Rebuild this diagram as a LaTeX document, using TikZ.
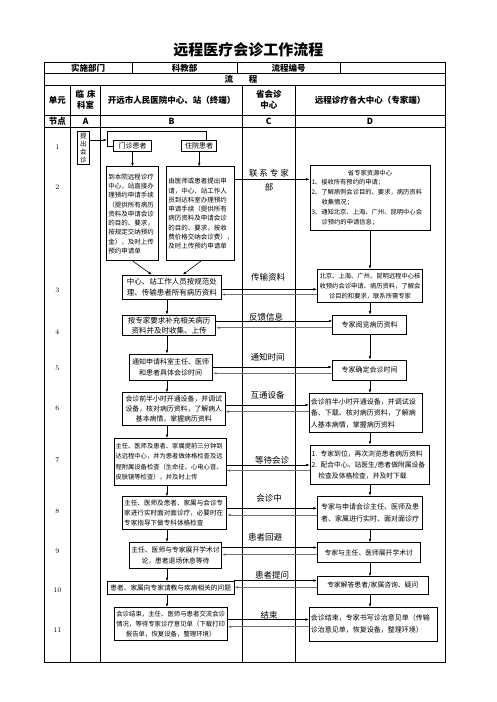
\documentclass[tikz,border=0pt]{standalone}
\usepackage{fontspec}
\newfontfamily\cjk{Noto Sans CJK SC}
\usetikzlibrary{arrows.meta}
\newcommand\fz[2]{\fontsize{#1}{#2}\selectfont}
\begin{document}
\begin{tikzpicture}[x=1pt,y=-1pt,
  tbl/.style={line width=0.9pt},
  bx/.style n args={4}{draw, line width=0.7pt, inner xsep=1.5pt, inner ysep=0pt,
     text width=#1pt, minimum height=#2pt, align=center, font=\cjk\fz{#3}{#4}},
  hdr/.style={inner sep=0pt, align=center, font=\cjk\bfseries\fz{8.5}{11}},
  lbl/.style={inner sep=0pt, align=center, font=\cjk\fz{8.5}{14}},
  num/.style={inner sep=0pt, font=\fz{7}{8}},
  arr/.style={-{Latex[length=3.5pt,width=2.6pt]}, line width=0.6pt},
  arr2/.style={arr, draw=black!55, line width=0.9pt},
  plain/.style={line width=0.6pt}]
\useasboundingbox (0,0) rectangle (496,702);
\fill[white] (0,0) rectangle (496,702);

% title
\node[inner sep=0pt, font=\cjk\bfseries\fz{15}{18}] (title) at (248.3,50) {远程医疗会诊工作流程};

% table grid
\draw[tbl] (44,62.3) rectangle (445,662.3);
\foreach \y in {73.3,85,115,127} \draw[tbl] (44,\y) -- (445,\y);
\foreach \x in {132,237,340} \draw[tbl] (\x,62.3) -- (\x,73.3);
\foreach \x in {70.7,100.7,242.7,295} \draw[tbl] (\x,85) -- (\x,662.3);

% header texts
\node[hdr] (h11) at (88,67.8) {实施部门};
\node[hdr] (h12) at (184.5,67.8) {科教部};
\node[hdr] (h13) at (288.5,67.8) {流程编号};
\node[hdr] (h2) at (241,79.2) {流\hspace{16pt}程};
\node[hdr] (h31) at (57.3,100) {单元};
\node[hdr] (h32) at (85.7,100) {临\hspace{3pt}床\\科室};
\node[hdr] (h33) at (171.7,100) {开远市人民医院中心、站（终端）};
\node[hdr] (h34) at (268.8,100) {省会诊\\中心};
\node[hdr] (h35) at (370,100) {远程诊疗各大中心（专家端）};
\node[hdr] (h41) at (57.3,121) {节点};
\node[hdr] (h42) at (85.7,121) {A};
\node[hdr] (h43) at (171.7,121) {B};
\node[hdr] (h44) at (268.8,121) {C};
\node[hdr] (h45) at (370,121) {D};

% node numbers
\foreach \n/\y in {1/147,2/186.7,3/290.7,4/331.7,5/368,6/408,7/460,8/511.7,9/551.7,10/590,11/630}
  \node[num] (n\n) at (57.3,\y) {\n};

% B column boxes
\node[bx={9}{33}{6.5}{8}] (b0) at (83.3,148.3) {提\\出\\会\\诊};
\node[bx={35}{11}{7}{8}] (b1a) at (132.5,146) {门诊患者};
\node[bx={32}{11}{7}{8}] (b1b) at (199.2,146) {住院患者};
\node[bx={49}{94}{6.5}{9.3}, align=left] (b2a) at (132.8,213.8)
  {到本院远程诊疗\\中心，站直接办\\理预约申请手续\\（提供所有病历\\资料及申请会诊\\的目的、要求，\\按规定交纳预约\\金），及时上传\\预约申请单};
\node[bx={65}{94}{6.5}{9.3}, align=left] (b2b) at (200.8,213.8)
  {由医师或患者提出申\\请，中心、站工作人\\员到达科室办理预约\\申请手续（提供所有\\病历资料及申请会诊\\的目的、要求，按收\\费价格交纳会诊费），\\及时上传预约申请单};
\node[bx={95.5}{24}{7.5}{11}] (b3) at (171.8,287) {中心、站工作人员按规范处\\理、传输患者所有病历资料};
\node[bx={90}{20.5}{7.5}{10}] (b4) at (169.2,325.2) {按专家要求补充相关病历\\资料并及时收集、上传};
\node[bx={80.7}{26}{7}{11}] (b5) at (170.7,367) {通知申请科室主任、医师\\和患者具体会诊时间};
\node[bx={99.3}{33}{6.9}{10}] (b6) at (173.8,409.2) {会诊前半小时开通设备，并调试\\设备，核对病历资料，了解病人\\基本病情，掌握病历资料};
\node[bx={109}{46.7}{6.3}{10.5}, align=left] (b7) at (170,461.7) {主任、医师及患者、家属提前三分钟到\\达远程中心，并为患者做体格检查及远\\程附属设备检查（生命征、心电心音、\\皮肤镜等检查），并及时上传};
\node[bx={101}{32.6}{6.6}{10}, align=left] (b8) at (174.7,513) {主任、医师及患者、家属与会诊专\\家进行实时面对面诊疗，必要时在\\专家指导下做专科体格检查};
\node[bx={89.4}{26}{6.8}{11}] (b9) at (175.5,555.3) {主任、医师与专家展开学术讨\\论，患者退场休息等待};
\node[bx={123.7}{12.3}{6.7}{8}] (b10) at (170.7,587.8) {患者、家属向专家请教与疾病相关的问题};
\node[bx={110.3}{32.7}{6.4}{10}] (b11) at (170.7,623.7) {会诊结束，主任、医师与患者交流会诊\\情况，等待专家诊疗意见单（下载打印\\报告单，恢复设备，整理环境）};

% D column boxes
\node[bx={117}{65}{6.3}{9.8}, align=left] (d2) at (370,197.5)
  {\makebox[\linewidth]{省专家资源中心}\\1、接收所有预约的申请；\\2、了解病例会诊目的、要求，病历资料\\\hspace*{1.6em}收集情况；\\3、通知北京、上海、广州、昆明中心会\\\hspace*{1.6em}诊预约的申请信息；};
\node[bx={102.4}{33}{6.3}{10}] (d3) at (370,285.8) {北京、上海、广州、昆明远程中心核\\收预约会诊申请、病历资料，了解会\\诊目的和要求，联系所需专家};
\node[bx={71}{19.3}{7}{9}] (d4) at (369.7,324.7) {专家阅览病历资料};
\node[bx={71.4}{20}{7}{9}] (d5) at (369.5,370) {专家确定会诊时间};
\node[bx={110.4}{39.4}{7}{11.5}, align=left] (d6) at (366,413) {会诊前半小时开通设备，并调试设\\备、下载、核对病历资料，了解病\\人基本病情，掌握病历资料};
\node[bx={116.3}{39}{6.8}{11}, align=left] (d7) at (369.7,464.5) {1. 专家到位，再次浏览患者病历资料\\2. 配合中心、站医生/患者做附属设备\\\hspace*{1em}检查及体格检查，并及时下载};
\node[bx={102.4}{33.3}{7}{12}] (d8) at (370,512.7) {专家与申请会诊主任、医师及患\\者、家属进行实时、面对面诊疗};
\node[bx={99.7}{19.6}{6.8}{9}] (d9) at (368.7,552.5) {专家与主任、医师展开学术讨};
\node[bx={108}{17.6}{6.8}{9}] (d10) at (372.8,585.5) {专家解答患者/家属咨询、疑问};
\node[bx={125}{33.7}{7}{12}, align=left] (d11) at (373.3,624.2) {会诊结束，专家书写诊治意见单（传输\\诊治意见单，恢复设备，整理环境）};

% C column labels
\node[lbl] (c2) at (269,180) {联\hspace{2pt}系\hspace{2pt}专\hspace{2pt}家\\部};
\node[lbl] (c3) at (268,277) {传输资料};
\node[lbl] (c4) at (266,317) {反馈信息};
\node[lbl] (c5) at (267.5,357) {通知时间};
\node[lbl] (c6) at (267.5,395) {互通设备};
\node[lbl] (c7) at (272,460) {等待会诊};
\node[lbl] (c8) at (269,498.3) {会诊中};
\node[lbl] (c9) at (265,537.3) {患者回避};
\node[lbl] (c10) at (272,575) {患者提问};
\node[lbl] (c11) at (269,615) {结束};

% top connectors
\coordinate (j1) at (107,140);
\coordinate (j2) at (107,131.7);
\coordinate (j3) at (206,131.7);
\draw[arr] (b0.east |- j1) -- (j1);
\draw[plain] (j3 |- b1b.north) -- (j3) -- (j2) -- (j2 |- b1a.west) -- (b1a.west);
\draw[arr] (b1a.south) -- (b1a.south |- b2a.north);
\draw[arr] (b1b.south) -- (b1b.south |- b2b.north);
\draw[arr] (b2a.south) -- ([xshift=-20pt]b3.north);
\draw[arr] (b2b.south) -- ([xshift=11pt]b3.north);

% vertical chains
\coordinate (cx) at (167,0);
\coordinate (dx) at (370,0);
\foreach \a/\b in {b3/b4,b4/b5,b5/b6,b6/b7,b7/b8,b8/b9,b9/b10,b10/b11}
  \draw[arr] (\a.south -| cx) -- (\b.north -| cx);
\foreach \a/\b in {d2/d3,d3/d4,d4/d5,d5/d6,d6/d7,d7/d8,d8/d9,d9/d10,d10/d11}
  \draw[arr] (\a.south -| dx) -- (\b.north -| dx);

% horizontal connectors
\coordinate (y2) at (0,179.3);
\draw[arr] (b2b.east |- y2) -- (d2.west |- y2);
\foreach \i/\ya/\yb in {3/289.3/294.5,4/321/327.7,5/367/373.3,6/405/411.7,7/465/470.5,8/508.3/515,9/547.5/554.5,10/580.5/587.3,11/619.5/626.7}{
  \coordinate (ya\i) at (0,\ya);
  \coordinate (yb\i) at (0,\yb);
  \draw[arr] (b\i.east |- ya\i) -- (d\i.west |- ya\i);
  \draw[arr2] (d\i.west |- yb\i) -- (b\i.east |- yb\i);
}
\end{tikzpicture}
\end{document}
